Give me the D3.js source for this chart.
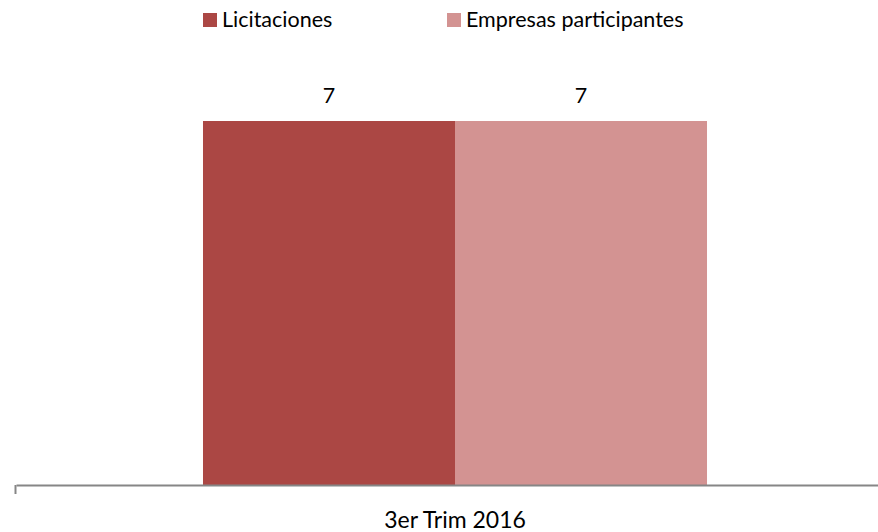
<!DOCTYPE html>
<html><head><meta charset="utf-8">
<script src="https://cdn.jsdelivr.net/npm/d3@7"></script>
<style>body{margin:0;background:#fff}svg{display:block}text{font-family:Lato,"Open Sans",sans-serif}</style>
</head><body><svg id="c" width="878" height="532"></svg>
<script>
const categories = ["3er Trim 2016"];
const seriesNames = ["Licitaciones", "Empresas participantes"];
const licitaciones = [7];
const empresas = [7];
const colors = ["#AB4744", "#D39392"];

const svg = d3.select("#c");
const m = {left: 16, right: -16, top: 69, bottom: 47};
const W = 878, H = 532;
const x0 = d3.scaleBand().domain(categories).range([m.left, W - m.right]).paddingInner(0).paddingOuter(0.371);
const x1 = d3.scaleBand().domain(seriesNames).range([0, x0.bandwidth()]);
const y = d3.scaleLinear().domain([0, 8]).range([H - m.bottom, m.top]);

const data = categories.map((c, i) => ({cat: c, vals: [licitaciones[i], empresas[i]]}));

const g = svg.append("g");
data.forEach(d => {
  d.vals.forEach((v, j) => {
    const xs = x0(d.cat) + x1(seriesNames[j]);
    g.append("rect").attr("x", xs).attr("y", y(v)).attr("width", x1.bandwidth()).attr("height", y(0) - y(v)).attr("fill", colors[j]);
    g.append("text").attr("x", xs + x1.bandwidth() / 2).attr("y", y(v) - 18).attr("text-anchor", "middle").attr("font-size", 21.5).attr("fill", "#000").text(v);
  });
});

const xAxis = d3.axisBottom(x0).tickSize(0).tickFormat(d => d);
const ax = svg.append("g").attr("transform", `translate(0,${y(0)})`).call(xAxis);
ax.select(".domain").attr("stroke", "#868686").attr("stroke-width", 2);
ax.selectAll(".tick text").attr("font-size", 23).attr("fill", "#000").attr("dy", 0).attr("y", 43);
svg.append("line").attr("x1", m.left - 0.5).attr("x2", m.left - 0.5).attr("y1", y(0)).attr("y2", y(0) + 9).attr("stroke", "#868686").attr("stroke-width", 2);

const legend = svg.append("g");
const lx = [203, 447];
seriesNames.forEach((s, j) => {
  legend.append("rect").attr("x", lx[j]).attr("y", 13).attr("width", 14).attr("height", 14).attr("fill", colors[j]);
  legend.append("text").attr("x", lx[j] + 19).attr("y", 27).attr("font-size", 21.5).attr("fill", "#000").text(s);
});
</script></body></html>
